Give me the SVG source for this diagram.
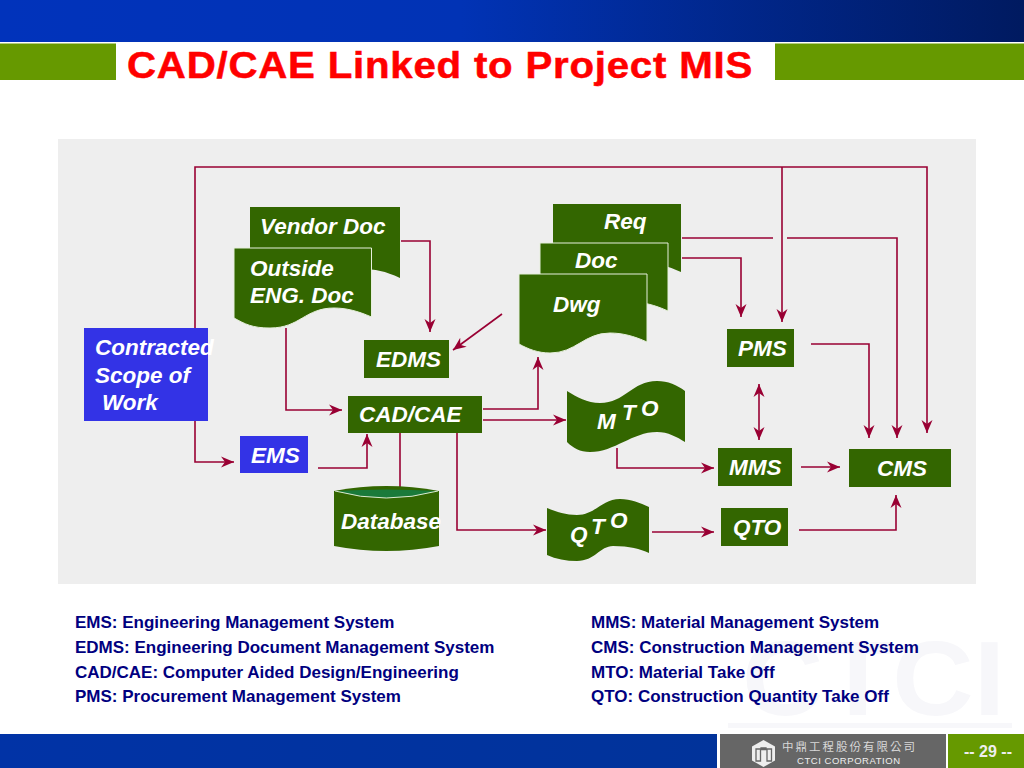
<svg xmlns="http://www.w3.org/2000/svg" width="1024" height="768" viewBox="0 0 1024 768">
<defs>
<linearGradient id="hdr" x1="0" x2="1" y1="0" y2="0"><stop offset="0" stop-color="#0133bb"/><stop offset="0.45" stop-color="#0133b5"/><stop offset="1" stop-color="#001a60"/></linearGradient>
<linearGradient id="ftr" x1="0" x2="1" y1="0" y2="0"><stop offset="0" stop-color="#0133a6"/><stop offset="1" stop-color="#01339a"/></linearGradient>
<marker id="a" markerUnits="userSpaceOnUse" markerWidth="16" markerHeight="14" viewBox="0 -7 16 14" refX="13" refY="0" orient="auto"><path d="M0,-5.500 L13,0 L0,5.500 L4,0 z" fill="#990033"/></marker>
<marker id="b" markerUnits="userSpaceOnUse" markerWidth="16" markerHeight="14" viewBox="-3 -7 16 14" refX="0" refY="0" orient="auto"><path d="M13,-5.500 L0,0 L13,5.500 L9,0 z" fill="#990033"/></marker>
</defs>
<style>
.n{fill:#336600}
.o{stroke:#e6efdc;stroke-width:1}
.u{fill:#3333e6}
.t{font-family:"Liberation Sans",Arial,sans-serif;font-weight:bold;font-style:italic;font-size:22.500px;fill:#fff}
.l{font-family:"Liberation Sans",Arial,sans-serif;font-weight:bold;font-size:17px;fill:#000080}
.c{fill:none;stroke:#990033;stroke-width:1.600}
.e{marker-end:url(#a)}
</style>
<g id="background">
<rect width="1024" height="768" fill="#fff"/>
<text x="742" y="715" font-family="Liberation Sans,sans-serif" font-weight="bold" font-size="105" fill="#f7f7fa" textLength="263" lengthAdjust="spacingAndGlyphs">CTCI</text>
<rect x="728" y="723" width="284" height="5" fill="#f7f7fa"/>
<rect width="1024" height="42" fill="url(#hdr)"/>
<rect y="43.500" width="116" height="36.500" fill="#669900"/>
<rect x="775" y="43.500" width="249" height="36.500" fill="#669900"/>
<rect x="58" y="139" width="918" height="445" fill="#eeeeee"/>
<rect y="734" width="717" height="34" fill="url(#ftr)"/>
<rect x="720" y="734" width="226" height="34" fill="#666666"/>
<rect x="948" y="734" width="76" height="34" fill="#669900"/>
</g>
<text id="title" x="127" y="78" font-family="Liberation Sans,Arial,sans-serif" font-weight="bold" font-size="36" letter-spacing="0.700" fill="#ff0000" stroke="#ff0000" stroke-width="0.500" textLength="626" lengthAdjust="spacingAndGlyphs">CAD/CAE Linked to Project MIS</text>
<g id="connectors">
<path class="c e" d="M195,328V167H927V433"/>
<path class="c e" d="M782,167V322"/>
<path class="c e" d="M195,421V462H234"/>
<path class="c e" d="M401,241H430V332"/>
<path class="c e" d="M502,314L453,350"/>
<path class="c e" d="M286,328V410H342"/>
<path class="c e" d="M318,468H367V434"/>
<path class="c" d="M400,433V487"/>
<path class="c e" d="M457,433V530H546"/>
<path class="c e" d="M483,409H538V357"/>
<path class="c e" d="M483,420H566"/>
<path class="c e" d="M617,448V468H714"/>
<path class="c" d="M682,238H773"/>
<path class="c e" d="M787,238H897V438"/>
<path class="c e" d="M682,258H741V317"/>
<path class="c e" d="M811,344H869V438"/>
<path class="c" d="M759,384V440" marker-start="url(#b)" marker-end="url(#a)"/>
<path class="c e" d="M801,467H840"/>
<path class="c e" d="M652,532H714"/>
<path class="c e" d="M799,530H896V495"/>
</g>
<g id="vendor-doc"><path class="n" d="M250,207H400V278C385,271 375,269 362,269C335,269 325,289 299,289C278,289 262,286 250,280Z"/><text class="t" x="260" y="234">Vendor Doc</text></g>
<g id="outside-doc"><path class="n o" d="M234,248H371.500V317C358,311 346,308 334,308C305,308 300,328 270,328C252,328 245,324 234,318Z"/><text class="t" x="250" y="276">Outside</text><text class="t" x="250" y="303">ENG. Doc</text></g>
<g id="scope"><rect class="u" x="84" y="328" width="124" height="93"/><text class="t" x="95" y="355">Contracted</text><text class="t" x="95" y="383">Scope of</text><text class="t" x="102" y="410">Work</text></g>
<g id="ems"><rect class="u" x="240" y="436" width="68" height="37"/><text class="t" x="251" y="463">EMS</text></g>
<g id="edms"><rect class="n" x="364" y="340" width="85" height="38"/><text class="t" x="376" y="367">EDMS</text></g>
<g id="cadcae"><rect class="n" x="348" y="396" width="134" height="37"/><text class="t" x="359" y="422">CAD/CAE</text></g>
<g id="database"><path class="n" d="M334,491Q386,481 439,491V546Q386,556 334,546Z"/><path d="M336,491Q386,488 437,491Q386,505 336,491Z" fill="#1a7a3a"/><path d="M335,491Q386,505 438,491" fill="none" stroke="#dcebd0" stroke-width="1"/><text class="t" x="341" y="529">Database</text></g>
<g id="req"><path class="n" d="M553,204H681V272C668,266 656,263 644,263C618,263 610,283 584,283C572,283 562,279 553,274Z"/><text class="t" x="604" y="229">Req</text></g>
<g id="doc"><path class="n o" d="M540,243H668V311C655,305 643,302 631,302C605,302 597,322 571,322C559,322 549,318 540,313Z"/><text class="t" x="575" y="268">Doc</text></g>
<g id="dwg"><path class="n o" d="M519,274H647V342C634,336 622,333 610,333C584,333 576,353 550,353C538,353 528,349 519,344Z"/><text class="t" x="553" y="312">Dwg</text></g>
<g id="mto"><path class="n" d="M567,391C577,397 587,403 600,403C625,403 632,381 657,381C668,381 677,385 685,391V442C677,437 668,432 657,432C632,432 615,452 590,452C580,452 573,448 567,442Z"/><text class="t" x="597" y="429">M</text><text class="t" x="622" y="420">T</text><text class="t" x="641" y="416">O</text></g>
<g id="qto-doc"><path class="n" d="M547,508C557,512 566,515 577,515C595,515 602,499 620,499C631,499 640,503 649,507V553C640,549 630,546 613,546C600,546 595,561 577,561C566,561 556,559 547,555Z"/><text class="t" x="570" y="542">Q</text><text class="t" x="591" y="534">T</text><text class="t" x="610" y="528">O</text></g>
<g id="pms"><rect class="n" x="727" y="329" width="67" height="38"/><text class="t" x="738" y="356">PMS</text></g>
<g id="mms"><rect class="n" x="718" y="448" width="74" height="38"/><text class="t" x="729" y="475">MMS</text></g>
<g id="cms"><rect class="n" x="849" y="449" width="102" height="38"/><text class="t" x="877" y="476">CMS</text></g>
<g id="qto"><rect class="n" x="721" y="508" width="67" height="38"/><text class="t" x="733" y="535">QTO</text></g>
<g id="legend">
<text class="l" x="75" y="628">EMS: Engineering Management System</text>
<text class="l" x="75" y="653">EDMS: Engineering Document Management System</text>
<text class="l" x="75" y="678">CAD/CAE: Computer Aided Design/Engineering</text>
<text class="l" x="75" y="702">PMS: Procurement Management System</text>
<text class="l" x="591" y="628">MMS: Material Management System</text>
<text class="l" x="591" y="653">CMS: Construction Management System</text>
<text class="l" x="591" y="678">MTO: Material Take Off</text>
<text class="l" x="591" y="702">QTO: Construction Quantity Take Off</text>
</g>
<g id="footer">
<path d="M763.500,740L775,746.500V760.500L763.500,767L752,760.500V746.500Z" fill="#eeeeee"/>
<path d="M756,749h4.500v12h-4.500zM767,749h4.500v12h-4.500zM761,748h5v1.500h-5z" fill="none" stroke="#666666" stroke-width="1.300"/>
<text x="782" y="751" font-family="Noto Sans CJK TC,sans-serif" font-size="11.500" fill="#d8d8d8" textLength="133">中鼎工程股份有限公司</text>
<text x="797" y="763.500" font-family="Liberation Sans,sans-serif" font-size="9.500" fill="#eeeeee" textLength="103">CTCI  CORPORATION</text>
<text x="964" y="757" font-family="Liberation Sans,sans-serif" font-weight="bold" font-size="16" fill="#eeeeee">-- 29 --</text>
</g>
</svg>
